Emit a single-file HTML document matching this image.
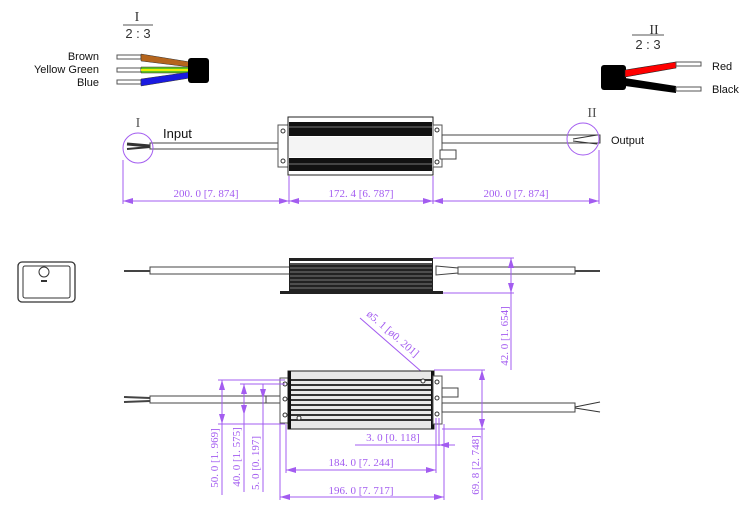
<!DOCTYPE html>
<html><head><meta charset="utf-8"><style>
html,body{margin:0;padding:0;background:#fff;}
svg{display:block;}
.p{stroke:#a35cf0;stroke-width:1;fill:none;}
.pt{fill:#a35cf0;font-family:"Liberation Serif",serif;font-size:11px;}
.bt{font-family:"Liberation Sans",sans-serif;font-size:11px;fill:#111;}
.k{stroke:#333;fill:none;stroke-width:1;}
</style></head><body>
<svg width="750" height="518" viewBox="0 0 750 518" xmlns="http://www.w3.org/2000/svg">
<defs>
<marker id="a" viewBox="0 0 10 6" refX="10" refY="3" markerWidth="10" markerHeight="6" orient="auto-start-reverse" markerUnits="userSpaceOnUse"><path d="M0,0L10,3L0,6z" fill="#a35cf0"/></marker>
</defs>
<!-- Detail I -->
<text x="137" y="21" text-anchor="middle" style="font-family:'Liberation Serif',serif;font-size:14px" fill="#333">I</text>
<line x1="123" y1="25" x2="153" y2="25" stroke="#555"/>
<text x="138" y="38" text-anchor="middle" style="font-family:'Liberation Sans',sans-serif;font-size:13px" fill="#333">2 : 3</text>
<text x="99" y="60" text-anchor="end" class="bt">Brown</text>
<text x="99" y="73" text-anchor="end" class="bt">Yellow  Green</text>
<text x="99" y="86" text-anchor="end" class="bt">Blue</text>
<rect x="117" y="55" width="24" height="4" fill="#fff" stroke="#555"/>
<rect x="117" y="68" width="24" height="4" fill="#fff" stroke="#555"/>
<rect x="117" y="80" width="24" height="4" fill="#fff" stroke="#555"/>
<polygon points="141,54 190,62 190,67 141,61" fill="#b5651d" stroke="#333" stroke-width=".5"/>
<polygon points="141,67 190,67 190,73 141,73" fill="#5fc31e" stroke="#333" stroke-width=".5"/>
<line x1="141" y1="70" x2="190" y2="70" stroke="#ee0" stroke-width="2"/>
<polygon points="141,79 190,72 190,78 141,86" fill="#1a1ae0" stroke="#333" stroke-width=".5"/>
<rect x="188" y="58" width="21" height="25" rx="3" fill="#000"/>
<!-- Detail II -->
<text x="654" y="34" text-anchor="middle" style="font-family:'Liberation Serif',serif;font-size:14px" fill="#333">II</text>
<line x1="632" y1="35" x2="664" y2="35" stroke="#555"/>
<text x="648" y="49" text-anchor="middle" style="font-family:'Liberation Sans',sans-serif;font-size:13px" fill="#333">2 : 3</text>
<rect x="601" y="65" width="25" height="25" rx="3" fill="#000"/>
<polygon points="625,70 676,62 676,68 625,77" fill="#f00" stroke="#222" stroke-width=".6"/>
<polygon points="625,78 676,86 676,93 625,86" fill="#000"/>
<rect x="676" y="62" width="25" height="4" fill="#fff" stroke="#555"/>
<rect x="676" y="87" width="25" height="4" fill="#fff" stroke="#555"/>
<text x="712" y="70" class="bt">Red</text>
<text x="712" y="93" class="bt">Black</text>
<!-- Top view -->
<line x1="127" y1="144" x2="150" y2="146" stroke="#333" stroke-width="3"/>
<line x1="127" y1="149" x2="150" y2="147" stroke="#333" stroke-width="2"/>
<rect x="150" y="143" width="130" height="6" fill="#fff" stroke="#444"/>
<rect x="278" y="125" width="10" height="42" fill="#fff" stroke="#555"/>
<circle cx="283" cy="131" r="2" class="k"/><circle cx="283" cy="161" r="2" class="k"/>
<rect x="288" y="117" width="145" height="58" fill="#fff" stroke="#222"/>
<rect x="289" y="122" width="143" height="14" fill="#111"/>
<line x1="289" y1="127" x2="432" y2="127" stroke="#777"/>
<rect x="289" y="158" width="143" height="13" fill="#111"/>
<line x1="289" y1="164" x2="432" y2="164" stroke="#777"/>
<rect x="289" y="137" width="143" height="20" fill="#f4f4f4"/>
<rect x="433" y="125" width="9" height="42" fill="#fff" stroke="#555"/>
<circle cx="437" cy="130" r="2" class="k"/><circle cx="437" cy="162" r="2" class="k"/>
<rect x="442" y="135" width="158" height="8" fill="#fff" stroke="#444"/>
<rect x="440" y="150" width="16" height="9" fill="#fff" stroke="#444"/>
<line x1="573" y1="139" x2="597" y2="135" stroke="#333"/>
<line x1="573" y1="141" x2="597" y2="144" stroke="#333"/>
<circle cx="138" cy="148" r="15" class="p"/>
<text x="138" y="127" text-anchor="middle" style="font-family:'Liberation Serif',serif;font-size:14px" fill="#555">I</text>
<text x="163" y="138" style="font-family:'Liberation Sans',sans-serif;font-size:13px" fill="#111">Input</text>
<circle cx="583" cy="139" r="16" class="p"/>
<text x="592" y="117" text-anchor="middle" style="font-family:'Liberation Serif',serif;font-size:14px" fill="#555">II</text>
<text x="611" y="144" class="bt">Output</text>
<line x1="123" y1="160" x2="123" y2="204" class="p"/>
<line x1="289" y1="176" x2="289" y2="204" class="p"/>
<line x1="433" y1="176" x2="433" y2="204" class="p"/>
<line x1="599" y1="150" x2="599" y2="204" class="p"/>
<line x1="123" y1="201" x2="289" y2="201" class="p" marker-start="url(#a)" marker-end="url(#a)"/>
<line x1="289" y1="201" x2="433" y2="201" class="p" marker-start="url(#a)" marker-end="url(#a)"/>
<line x1="433" y1="201" x2="599" y2="201" class="p" marker-start="url(#a)" marker-end="url(#a)"/>
<text x="206" y="197" text-anchor="middle" class="pt">200. 0 [7. 874]</text>
<text x="361" y="197" text-anchor="middle" class="pt">172. 4 [6. 787]</text>
<text x="516" y="197" text-anchor="middle" class="pt">200. 0 [7. 874]</text>
<!-- icon -->
<rect x="18" y="262" width="57" height="40" rx="4" fill="#fff" stroke="#333" stroke-width="1.3"/>
<rect x="23" y="266" width="47" height="32" rx="2" fill="none" stroke="#333"/>
<circle cx="44" cy="272" r="5" fill="#fff" stroke="#333"/>
<rect x="41" y="280" width="6" height="2" fill="#333"/>
<!-- Side view -->
<line x1="124" y1="271" x2="150" y2="271" stroke="#444" stroke-width="2"/>
<rect x="150" y="267" width="140" height="7" fill="#fff" stroke="#444"/>
<rect x="280" y="291" width="163" height="3" fill="#222"/>
<rect x="289" y="258" width="144" height="35" fill="#222"/>
<g stroke="#999" stroke-width=".8">
<line x1="290" y1="264" x2="432" y2="264"/><line x1="290" y1="268" x2="432" y2="268"/><line x1="290" y1="272" x2="432" y2="272"/><line x1="290" y1="276" x2="432" y2="276"/><line x1="290" y1="280" x2="432" y2="280"/><line x1="290" y1="284" x2="432" y2="284"/><line x1="290" y1="288" x2="432" y2="288"/></g>
<rect x="290" y="261" width="142" height="2" fill="#fff"/>
<polygon points="436,266 458,268 458,273 436,275" fill="#fff" stroke="#444"/>
<rect x="458" y="267" width="117" height="7" fill="#fff" stroke="#444"/>
<line x1="575" y1="271" x2="600" y2="271" stroke="#444" stroke-width="2"/>
<line x1="433" y1="258" x2="514" y2="258" class="p"/>
<line x1="443" y1="293" x2="514" y2="293" class="p"/>
<line x1="511" y1="258" x2="511" y2="293" class="p" marker-start="url(#a)" marker-end="url(#a)"/>
<line x1="511" y1="293" x2="511" y2="370" class="p"/>
<text transform="translate(508,336) rotate(-90)" text-anchor="middle" class="pt">42. 0 [1. 654]</text>
<!-- leader -->
<line x1="360" y1="318" x2="446" y2="393" class="p" marker-end="url(#a)"/>
<text transform="translate(366,315) rotate(41)" class="pt">ø5. 1 [ø0. 201]</text>
<!-- Bottom view -->
<line x1="124" y1="397" x2="150" y2="398" stroke="#444" stroke-width="2"/>
<line x1="124" y1="402" x2="150" y2="401" stroke="#444" stroke-width="2"/>
<rect x="150" y="396" width="130" height="7" fill="#fff" stroke="#444"/>
<rect x="266" y="396" width="18" height="7" fill="#fff" stroke="#444"/>
<rect x="280" y="378" width="10" height="45" fill="#fff" stroke="#555"/>
<circle cx="285" cy="384" r="2" class="k"/><circle cx="285" cy="399" r="2" class="k"/><circle cx="285" cy="415" r="2" class="k"/>
<rect x="288" y="371" width="146" height="58" fill="#e8e8e8" stroke="#222"/>
<rect x="288" y="371" width="3" height="58" fill="#111"/><rect x="431" y="371" width="3" height="58" fill="#111"/>
<g stroke="#333" stroke-width="2">
<line x1="291" y1="380" x2="431" y2="380"/><line x1="291" y1="385" x2="431" y2="385"/><line x1="291" y1="390" x2="431" y2="390"/><line x1="291" y1="395" x2="431" y2="395"/><line x1="291" y1="400" x2="431" y2="400"/><line x1="291" y1="405" x2="431" y2="405"/><line x1="291" y1="410" x2="431" y2="410"/><line x1="291" y1="415" x2="431" y2="415"/><line x1="291" y1="420" x2="431" y2="420"/></g>
<circle cx="299" cy="418" r="2" fill="#fff" stroke="#333"/><circle cx="423" cy="381" r="2" fill="#fff" stroke="#333"/>
<rect x="433" y="376" width="9" height="48" fill="#fff" stroke="#555"/>
<circle cx="437" cy="382" r="2" class="k"/><circle cx="437" cy="398" r="2" class="k"/><circle cx="437" cy="414" r="2" class="k"/>
<rect x="442" y="388" width="16" height="9" fill="#fff" stroke="#444"/>
<rect x="442" y="403" width="133" height="9" fill="#fff" stroke="#444"/>
<line x1="575" y1="407" x2="600" y2="402" stroke="#333"/><line x1="575" y1="408" x2="600" y2="412" stroke="#333"/>
<!-- dims -->
<line x1="218" y1="380" x2="285" y2="380" class="p"/>
<line x1="240" y1="384" x2="285" y2="384" class="p"/>
<line x1="218" y1="424" x2="285" y2="424" class="p"/>
<line x1="222" y1="380" x2="222" y2="424" class="p" marker-start="url(#a)" marker-end="url(#a)"/>
<line x1="222" y1="424" x2="222" y2="495" class="p"/>
<line x1="244" y1="384" x2="244" y2="415" class="p" marker-start="url(#a)" marker-end="url(#a)"/>
<line x1="244" y1="415" x2="244" y2="492" class="p"/>
<line x1="263" y1="384" x2="263" y2="392" class="p"/>
<line x1="263" y1="392" x2="263" y2="399" class="p" marker-end="url(#a)"/>
<line x1="263" y1="399" x2="263" y2="492" class="p"/>
<text transform="translate(218,458) rotate(-90)" text-anchor="middle" class="pt">50. 0 [1. 969]</text>
<text transform="translate(240,457) rotate(-90)" text-anchor="middle" class="pt">40. 0 [1. 575]</text>
<text transform="translate(259,463) rotate(-90)" text-anchor="middle" class="pt">5. 0 [0. 197]</text>
<line x1="286" y1="424" x2="286" y2="473" class="p"/>
<line x1="280" y1="424" x2="280" y2="500" class="p"/>
<line x1="436" y1="418" x2="436" y2="473" class="p"/>
<line x1="439" y1="418" x2="439" y2="446" class="p"/>
<line x1="444" y1="424" x2="444" y2="500" class="p"/>
<line x1="355" y1="445" x2="436" y2="445" class="p"/>
<line x1="436" y1="445" x2="439" y2="445" class="p"/>
<line x1="439" y1="445" x2="455" y2="445" class="p" marker-start="url(#a)"/>
<text x="393" y="441" text-anchor="middle" class="pt">3. 0 [0. 118]</text>
<line x1="286" y1="470" x2="436" y2="470" class="p" marker-start="url(#a)" marker-end="url(#a)"/>
<text x="361" y="466" text-anchor="middle" class="pt">184. 0 [7. 244]</text>
<line x1="280" y1="497" x2="444" y2="497" class="p" marker-start="url(#a)" marker-end="url(#a)"/>
<text x="361" y="494" text-anchor="middle" class="pt">196. 0 [7. 717]</text>
<line x1="434" y1="370" x2="485" y2="370" class="p"/>
<line x1="442" y1="429" x2="485" y2="429" class="p"/>
<line x1="482" y1="370" x2="482" y2="429" class="p" marker-start="url(#a)" marker-end="url(#a)"/>
<line x1="482" y1="429" x2="482" y2="500" class="p"/>
<text transform="translate(479,465) rotate(-90)" text-anchor="middle" class="pt">69. 8 [2. 748]</text>
</svg>
</body></html>
